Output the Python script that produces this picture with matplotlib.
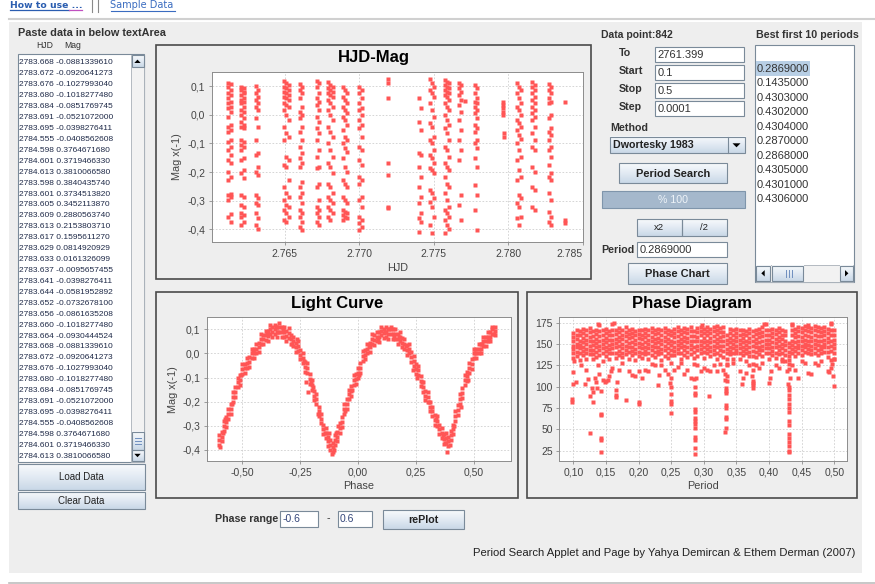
import numpy as np
import matplotlib
matplotlib.use('Agg')
import matplotlib.pyplot as plt
from matplotlib.patches import Rectangle, Polygon
from matplotlib.colors import LinearSegmentedColormap
from matplotlib.ticker import FixedLocator, FuncFormatter

plt.rcParams['font.family'] = ['Liberation Sans', 'DejaVu Sans']

# ----------------------------------------------------------------- data
TEXTAREA_ROWS = [
    '2783.668 -0.0881339610', '2783.672 -0.0920641273', '2783.676 -0.1027993040',
    '2783.680 -0.1018277480', '2783.684 -0.0851769745', '2783.691 -0.0521072000',
    '2783.695 -0.0398276411', '2784.555 -0.0408562608', '2784.598 0.3764671680',
    '2784.601 0.3719466330', '2784.613 0.3810066580', '2783.598 0.3840435740',
    '2783.601 0.3734513820', '2783.605 0.3452113870', '2783.609 0.2880563740',
    '2783.613 0.2153803710', '2783.617 0.1595611270', '2783.629 0.0814920929',
    '2783.633 0.0161326099', '2783.637 -0.0095657455', '2783.641 -0.0398276411',
    '2783.644 -0.0581952892', '2783.652 -0.0732678100', '2783.656 -0.0861635208',
    '2783.660 -0.1018277480', '2783.664 -0.0930444524', '2783.668 -0.0881339610',
    '2783.672 -0.0920641273', '2783.676 -0.1027993040', '2783.680 -0.1018277480',
    '2783.684 -0.0851769745', '2783.691 -0.0521072000', '2783.695 -0.0398276411',
    '2784.555 -0.0408562608', '2784.598 0.3764671680', '2784.601 0.3719466330',
    '2784.613 0.3810066580']

BEST_PERIODS = ['0.2869000', '0.1435000', '0.4303000', '0.4302000', '0.4304000',
                '0.2870000', '0.2868000', '0.4305000', '0.4301000', '0.4306000']

FIELD_LABELS = ['To', 'Start', 'Stop', 'Step']
FIELD_VALUES = ['2761.399', '0.1', '0.5', '0.0001']

# HJD-Mag: observation columns (HJD) and the magnitudes observed in each
HJD_COLS = [2761.18, 2761.40, 2762.10, 2762.30, 2763.05, 2763.20, 2764.97, 2765.12,
            2765.27, 2766.00, 2766.16, 2767.17, 2767.31, 2767.93, 2768.07, 2768.21,
            2768.90, 2769.03, 2769.16, 2770.00, 2770.16, 2771.95, 2774.02, 2774.12,
            2774.78, 2774.91, 2775.04, 2775.74, 2775.87, 2776.00, 2776.68, 2776.84,
            2777.08, 2777.74, 2777.90, 2779.64, 2779.72, 2780.60, 2780.74, 2780.88,
            2781.60, 2781.78, 2782.74, 2782.88, 2783.78]
MAG_COLS = [
    [0.110, 0.098, 0.074, 0.057, 0.040, 0.022, -0.007, -0.042, -0.059, -0.095, -0.123, -0.158, -0.199, -0.228, -0.281, -0.298, -0.356],
    [0.107, 0.086, 0.069, 0.045, 0.028, 0.010, -0.036, -0.053, -0.088, -0.112, -0.140, -0.170, -0.216, -0.275, -0.287, -0.345, -0.373],
    [0.098, 0.086, 0.069, 0.051, 0.040, 0.016, -0.001, -0.024, -0.042, -0.088, -0.106, -0.123, -0.158, -0.205, -0.280, -0.315, -0.344, -0.356, -0.385],
    [0.092, 0.080, 0.074, 0.057, 0.045, 0.028, 0.010, -0.013, -0.036, -0.048, -0.095, -0.112, -0.152, -0.193, -0.222, -0.286, -0.321, -0.350, -0.373],
    [0.100, 0.074, 0.051, 0.028, -0.013, -0.088, -0.141, -0.199, -0.280, -0.309, -0.344, -0.385],
    [0.086, 0.063, 0.040, 0.016, -0.042, -0.135, -0.181, -0.210, -0.292, -0.315, -0.362, -0.397],
    [0.119, 0.098, 0.080, 0.063, 0.040, 0.016, -0.042, -0.088, -0.176, -0.251, -0.298, -0.333, -0.367],
    [0.112, 0.092, 0.074, 0.057, 0.034, -0.001, -0.065, -0.147, -0.181, -0.274, -0.315, -0.344, -0.373],
    [0.103, 0.086, 0.069, 0.051, 0.028, -0.019, -0.077, -0.158, -0.228, -0.286, -0.321, -0.356],
    [0.107, 0.086, 0.057, 0.010, -0.013, -0.059, -0.112, -0.152, -0.181, -0.251, -0.286, -0.333, -0.356, -0.391],
    [0.098, 0.074, 0.028, -0.001, -0.042, -0.088, -0.135, -0.170, -0.234, -0.274, -0.309, -0.344, -0.373, -0.402],
    [0.119, 0.098, 0.057, 0.034, -0.007, -0.048, -0.088, -0.147, -0.187, -0.251, -0.321, -0.344, -0.373],
    [0.109, 0.074, 0.045, 0.016, -0.024, -0.065, -0.123, -0.181, -0.240, -0.298, -0.333, -0.356, -0.385],
    [0.115, 0.092, 0.074, 0.051, 0.016, -0.042, -0.100, -0.170, -0.240, -0.286, -0.321, -0.356],
    [0.103, 0.086, 0.069, 0.040, -0.001, -0.059, -0.123, -0.181, -0.251, -0.298, -0.333, -0.367],
    [0.098, 0.080, 0.063, 0.028, -0.019, -0.077, -0.147, -0.205, -0.274, -0.309, -0.344],
    [0.098, 0.063, 0.028, -0.007, -0.053, -0.100, -0.152, -0.228, -0.286, -0.333, -0.350, -0.367],
    [0.086, 0.051, 0.016, -0.019, -0.077, -0.117, -0.181, -0.240, -0.298, -0.338, -0.356],
    [0.074, 0.040, 0.005, -0.036, -0.088, -0.129, -0.199, -0.251, -0.309, -0.344, -0.362],
    [0.098, 0.074, 0.040, 0.016, -0.019, -0.048, -0.112, -0.158, -0.216, -0.240, -0.298, -0.356, -0.379, -0.402],
    [0.086, 0.057, 0.022, -0.001, -0.036, -0.077, -0.123, -0.176, -0.228, -0.286, -0.321, -0.367, -0.391],
    [0.123, 0.112, 0.057, -0.170, -0.210, -0.321, -0.327],
    [0.060, -0.024, -0.135, -0.181, -0.251, -0.309, -0.362, -0.408],
    [0.022, -0.053, -0.141, -0.216, -0.286, -0.344, -0.373],
    [0.124, 0.086, 0.040, -0.030, -0.088, -0.141, -0.187, -0.263, -0.303, -0.385],
    [0.109, 0.074, 0.016, -0.042, -0.100, -0.152, -0.193, -0.274, -0.321, -0.412],
    [0.098, 0.063, -0.007, -0.077, -0.123, -0.170, -0.205, -0.292, -0.356],
    [0.121, 0.103, 0.086, 0.069, 0.040, -0.001, -0.048, -0.112, -0.170, -0.216, -0.274, -0.333, -0.367, -0.412],
    [0.115, 0.098, 0.080, 0.063, 0.028, -0.019, -0.065, -0.123, -0.181, -0.240, -0.298, -0.344, -0.385],
    [0.109, 0.092, 0.074, 0.051, 0.016, -0.036, -0.088, -0.147, -0.193, -0.251, -0.321, -0.356, -0.397],
    [0.112, 0.092, 0.069, 0.034, -0.019, -0.088, -0.158, -0.315],
    [0.103, 0.080, 0.051, 0.010, -0.053, -0.123, -0.280, -0.367],
    [0.049],
    [0.103, 0.074, 0.045, 0.028, 0.005, -0.036, -0.059, -0.100, -0.152, -0.245, -0.333],
    [0.092, 0.057, 0.040, 0.016, -0.013, -0.048, -0.088, -0.117, -0.181, -0.280, -0.402],
    [0.045, 0.034, 0.022, 0.010, -0.001],
    [-0.065, -0.077],
    [0.109, 0.074, 0.028, -0.019, -0.053, -0.100, -0.158, -0.228, -0.309, -0.362],
    [0.098, 0.057, 0.016, -0.030, -0.071, -0.123, -0.193, -0.280, -0.321, -0.385],
    [0.086, 0.040, -0.001, -0.042, -0.083, -0.147, -0.216, -0.292, -0.356],
    [0.115, 0.098, 0.074, 0.051, 0.028, 0.005, -0.019, -0.065, -0.112, -0.181, -0.251, -0.321],
    [0.103, 0.086, 0.063, 0.040, 0.016, -0.007, -0.042, -0.088, -0.123, -0.199, -0.263, -0.333],
    [0.107, 0.086, 0.057, 0.040, -0.013, -0.059, -0.088, -0.123, -0.176, -0.216, -0.274, -0.338, -0.373],
    [0.098, 0.074, 0.045, -0.001, -0.048, -0.071, -0.112, -0.147, -0.205, -0.228, -0.298, -0.356, -0.385],
    [0.045, -0.367, -0.377],
]

# Light curve: phase and three magnitude readings per phase bin
LC_PHASE = [-0.60, -0.59, -0.58, -0.57, -0.56, -0.55, -0.54, -0.53, -0.52, -0.51,
            -0.50, -0.49, -0.48, -0.47, -0.46, -0.45, -0.44, -0.43, -0.42, -0.41,
            -0.40, -0.39, -0.38, -0.37, -0.36, -0.35, -0.34, -0.33, -0.32, -0.31,
            -0.30, -0.29, -0.28, -0.27, -0.26, -0.25, -0.24, -0.23, -0.22, -0.21,
            -0.20, -0.19, -0.18, -0.17, -0.16, -0.15, -0.14, -0.13, -0.12, -0.11,
            -0.10, -0.09, -0.08, -0.07, -0.06, -0.05, -0.04, -0.03, -0.02, -0.01,
            0.00, 0.01, 0.02, 0.03, 0.04, 0.05, 0.06, 0.07, 0.08, 0.09,
            0.10, 0.11, 0.12, 0.13, 0.14, 0.15, 0.16, 0.17, 0.18, 0.19,
            0.20, 0.21, 0.22, 0.23, 0.24, 0.25, 0.26, 0.27, 0.28, 0.29,
            0.30, 0.31, 0.32, 0.33, 0.34, 0.35, 0.36, 0.37, 0.38, 0.39,
            0.40, 0.41, 0.42, 0.43, 0.44, 0.45, 0.46, 0.47, 0.48, 0.49,
            0.50, 0.51, 0.52, 0.53, 0.54, 0.55, 0.56, 0.57, 0.58, 0.59]
LC_MAG_HI = [-0.34, -0.325, -0.28, -0.265, -0.23, -0.21, -0.16, -0.14, -0.10, -0.09,
             -0.045, -0.042, -0.02, -0.015, 0.02, 0.02, 0.04, 0.045, 0.08, 0.078,
             0.095, 0.093, 0.12, 0.11, 0.12, 0.11, 0.125, 0.11, 0.11, 0.093,
             0.105, 0.078, 0.07, 0.045, 0.05, 0.015, 0.00, -0.035, -0.04, -0.085,
             -0.11, -0.155, -0.17, -0.22, -0.25, -0.295, -0.31, -0.345, -0.36, -0.37,
             -0.34, -0.325, -0.29, -0.265, -0.21, -0.19, -0.15, -0.135, -0.09, -0.085,
             -0.06, -0.04, 0.01, 0.015, 0.04, 0.045, 0.08, 0.075, 0.09, 0.088,
             0.11, 0.103, 0.11, 0.10, 0.11, 0.10, 0.10, 0.08, 0.09, 0.065,
             0.06, 0.035, 0.04, 0.005, -0.01, -0.045, -0.05, -0.095, -0.12, -0.155,
             -0.16, -0.20, -0.22, -0.255, -0.26, -0.295, -0.31, -0.335, -0.33, -0.345,
             -0.32, -0.295, -0.24, -0.215, -0.17, -0.145, -0.09, -0.075, -0.04, -0.025,
             0.02, 0.02, 0.04, 0.04, 0.07, 0.07, 0.09, 0.09, 0.11, 0.11]
LC_MAG_MID = [-0.36, -0.345, -0.30, -0.285, -0.25, -0.23, -0.18, -0.16, -0.12, -0.11,
              -0.065, -0.062, -0.04, -0.035, 0.00, 0.00, 0.02, 0.025, 0.06, 0.058,
              0.075, 0.073, 0.10, 0.09, 0.10, 0.09, 0.11, 0.09, 0.09, 0.073,
              0.085, 0.058, 0.05, 0.025, 0.03, -0.005, -0.02, -0.055, -0.06, -0.105,
              -0.13, -0.175, -0.19, -0.24, -0.27, -0.315, -0.33, -0.365, -0.38, -0.39,
              -0.36, -0.345, -0.31, -0.285, -0.23, -0.21, -0.17, -0.155, -0.11, -0.105,
              -0.08, -0.06, -0.01, -0.005, 0.02, 0.025, 0.06, 0.055, 0.07, 0.068,
              0.095, 0.083, 0.09, 0.08, 0.10, 0.08, 0.08, 0.06, 0.07, 0.045,
              0.04, 0.015, 0.02, -0.015, -0.03, -0.065, -0.07, -0.115, -0.14, -0.175,
              -0.18, -0.22, -0.24, -0.275, -0.28, -0.315, -0.33, -0.355, -0.35, -0.365,
              -0.34, -0.315, -0.26, -0.235, -0.19, -0.165, -0.11, -0.095, -0.06, -0.045,
              0.00, 0.00, 0.02, 0.02, 0.05, 0.05, 0.07, 0.07, 0.10, 0.095]
LC_MAG_LO = [-0.38, -0.365, -0.32, -0.305, -0.27, -0.25, -0.20, -0.18, -0.14, -0.13,
             -0.085, -0.082, -0.06, -0.055, -0.02, -0.02, 0.00, 0.005, 0.04, 0.038,
             0.055, 0.053, 0.08, 0.07, 0.08, 0.07, 0.09, 0.07, 0.07, 0.053,
             0.065, 0.038, 0.03, 0.005, 0.01, -0.025, -0.04, -0.075, -0.08, -0.125,
             -0.15, -0.195, -0.21, -0.26, -0.29, -0.335, -0.35, -0.385, -0.40, -0.41,
             -0.38, -0.365, -0.33, -0.305, -0.25, -0.23, -0.19, -0.175, -0.13, -0.125,
             -0.10, -0.08, -0.03, -0.025, 0.00, 0.005, 0.04, 0.035, 0.05, 0.048,
             0.075, 0.063, 0.07, 0.06, 0.08, 0.06, 0.06, 0.04, 0.05, 0.025,
             0.02, -0.005, 0.00, -0.035, -0.05, -0.085, -0.09, -0.135, -0.16, -0.195,
             -0.20, -0.24, -0.26, -0.295, -0.30, -0.335, -0.35, -0.375, -0.37, -0.385,
             -0.36, -0.335, -0.28, -0.255, -0.21, -0.185, -0.13, -0.115, -0.08, -0.065,
             -0.02, -0.02, 0.00, 0.00, 0.03, 0.03, 0.05, 0.05, 0.08, 0.075]
LC_EXTRA_PHASE = [-0.595, -0.585, -0.575, -0.545, -0.505, -0.455, -0.395, -0.355, -0.345, -0.325,
                  -0.285, -0.265, -0.235, -0.225, -0.215, -0.205, -0.195, -0.175, -0.145, -0.125,
                  -0.115, -0.105, -0.095, -0.085, -0.055, -0.025, 0.005, 0.045, 0.085, 0.115,
                  0.135, 0.155, 0.175, 0.205, 0.235, 0.255, 0.275, 0.305, 0.335, 0.365,
                  0.375, 0.385, 0.395, 0.415, 0.445, 0.475, 0.505, 0.535, 0.565, 0.585]
LC_EXTRA_MAG = [-0.39, -0.33, -0.27, -0.21, -0.09, 0.01, 0.08, 0.11, 0.09, 0.10,
                0.04, 0.06, -0.03, -0.12, -0.16, -0.12, -0.14, -0.25, -0.33, -0.33,
                -0.415, -0.40, -0.33, -0.30, -0.24, -0.15, -0.09, 0.03, 0.06, 0.09,
                0.10, 0.07, 0.07, 0.03, -0.07, -0.10, -0.12, -0.20, -0.27, -0.34,
                -0.37, -0.41, -0.38, -0.30, -0.22, -0.11, 0.00, 0.04, 0.06, 0.08]

# Phase diagram: trial period columns with theta values of the dense band
PD_BAND_PERIOD = [0.100, 0.105, 0.110, 0.115, 0.120, 0.125, 0.130, 0.135, 0.140, 0.145,
                  0.150, 0.155, 0.160, 0.165, 0.170, 0.175, 0.180, 0.185, 0.190, 0.195,
                  0.200, 0.205, 0.210, 0.215, 0.220, 0.225, 0.230, 0.235, 0.240, 0.245,
                  0.250, 0.255, 0.260, 0.265, 0.270, 0.275, 0.280, 0.285, 0.290, 0.295,
                  0.300, 0.305, 0.310, 0.315, 0.320, 0.325, 0.330, 0.335, 0.340, 0.345,
                  0.350, 0.355, 0.360, 0.365, 0.370, 0.375, 0.380, 0.385, 0.390, 0.395,
                  0.400, 0.405, 0.410, 0.415, 0.420, 0.425, 0.430, 0.435, 0.440, 0.445,
                  0.450, 0.455, 0.460, 0.465, 0.470, 0.475, 0.480, 0.485, 0.490, 0.495, 0.500]
PD_BAND_THETA = [
    [163, 158, 153, 148, 144, 139, 134], [167, 161, 156, 150, 146, 141, 136],
    [165, 160, 154, 149, 145, 140, 131], [168, 163, 157, 152, 147, 142, 137],
    [166, 161, 155, 150, 144, 139, 133], [169, 164, 158, 153, 148, 143, 138],
    [165, 159, 154, 149, 143, 138, 132], [167, 162, 156, 151, 146, 141, 135],
    [172, 165, 159, 154, 148, 143, 137], [166, 160, 155, 150, 145, 139, 130],
    [168, 163, 157, 152, 147, 142, 136], [165, 160, 155, 149, 144, 139, 133],
    [174, 167, 161, 155, 150, 145, 139], [167, 162, 156, 151, 146, 140, 134],
    [169, 164, 158, 153, 148, 142, 137], [166, 161, 156, 150, 145, 140, 135],
    [170, 164, 159, 153, 148, 143, 138], [167, 162, 157, 151, 146, 141, 133],
    [168, 163, 158, 152, 147, 142, 137], [165, 160, 155, 150, 144, 139, 131],
    [167, 162, 157, 151, 146, 141, 136], [166, 161, 156, 150, 145, 139, 134],
    [168, 163, 158, 152, 147, 142, 138], [166, 161, 155, 150, 145, 140, 132],
    [169, 164, 158, 153, 148, 143, 137], [167, 162, 156, 151, 146, 141, 135],
    [168, 163, 157, 152, 147, 142, 138], [166, 160, 155, 150, 144, 139, 131],
    [169, 164, 158, 153, 148, 143, 136], [167, 162, 156, 151, 145, 140, 134],
    [165, 160, 154, 149, 143, 137, 128], [168, 163, 158, 152, 147, 142, 137],
    [170, 165, 159, 154, 149, 144, 139], [167, 162, 156, 151, 146, 140, 133],
    [169, 164, 158, 153, 148, 143, 137], [168, 163, 157, 152, 146, 141, 135],
    [170, 165, 159, 154, 149, 144, 138], [165, 159, 153, 147, 141, 134, 126],
    [169, 164, 158, 153, 148, 143, 136], [170, 165, 160, 154, 149, 144, 140],
    [168, 163, 157, 152, 146, 141, 134], [170, 165, 160, 154, 149, 144, 139],
    [168, 163, 157, 152, 147, 142, 136], [170, 165, 159, 154, 148, 143, 138],
    [167, 162, 156, 151, 146, 140, 133], [169, 164, 158, 153, 148, 143, 137],
    [170, 164, 159, 153, 148, 142, 135], [161, 155, 150, 144, 139, 133, 127],
    [168, 163, 157, 152, 147, 142, 138], [166, 161, 155, 150, 145, 139, 133],
    [168, 163, 158, 153, 148, 143, 139], [166, 161, 155, 150, 145, 140, 132],
    [167, 162, 157, 152, 147, 142, 137], [165, 160, 154, 149, 144, 139, 130],
    [168, 163, 157, 152, 147, 141, 136], [165, 159, 153, 148, 142, 136, 127],
    [167, 162, 156, 151, 146, 141, 135], [168, 163, 158, 152, 147, 143, 138],
    [170, 164, 159, 154, 148, 143, 136], [173, 166, 160, 155, 150, 145, 139],
    [166, 161, 155, 150, 145, 139, 132], [168, 163, 158, 152, 147, 142, 137],
    [167, 162, 156, 151, 146, 140, 134], [169, 164, 158, 153, 148, 143, 138],
    [166, 161, 156, 150, 145, 139, 133], [165, 160, 154, 149, 143, 137, 130],
    [151, 146, 141, 136, 131, 126, 121], [172, 166, 160, 154, 149, 144, 139],
    [168, 163, 158, 152, 147, 142, 136], [170, 165, 159, 154, 149, 145, 140],
    [169, 164, 158, 153, 148, 143, 137], [171, 166, 160, 155, 150, 146, 141],
    [170, 165, 159, 154, 149, 144, 139], [169, 164, 158, 153, 148, 143, 138],
    [171, 166, 160, 155, 150, 145, 140], [170, 165, 159, 154, 149, 143, 137],
    [169, 164, 159, 153, 148, 144, 139], [170, 165, 160, 155, 150, 146, 141],
    [168, 163, 157, 152, 147, 141, 135], [174, 167, 160, 154, 148, 142, 131],
    [166, 161, 155, 150, 145, 140, 133]]
# Phase diagram: isolated (period, theta) points outside the band
PD_SCATTER = [
    (0.098, 85), (0.098, 82), (0.100, 103), (0.100, 117), (0.101, 130), (0.104, 106),
    (0.112, 125), (0.118, 103), (0.120, 120), (0.123, 109), (0.125, 89), (0.125, 46),
    (0.128, 98), (0.130, 94), (0.130, 82), (0.133, 110), (0.135, 105), (0.137, 98),
    (0.138, 125), (0.140, 115), (0.1425, 68), (0.1425, 67), (0.143, 40), (0.143, 38),
    (0.143, 23), (0.142, 95), (0.145, 108), (0.148, 105), (0.150, 107), (0.153, 108),
    (0.155, 112), (0.157, 118), (0.160, 122), (0.165, 96), (0.165, 90), (0.166, 88),
    (0.167, 105), (0.170, 120), (0.175, 128), (0.180, 84), (0.185, 118), (0.190, 114),
    (0.195, 113), (0.200, 82), (0.200, 80), (0.200, 118), (0.205, 110), (0.210, 120),
    (0.215, 118), (0.220, 127), (0.225, 125), (0.230, 102), (0.232, 114), (0.235, 125),
    (0.240, 120), (0.245, 115), (0.248, 104), (0.249, 100), (0.249, 92), (0.249, 83),
    (0.249, 80), (0.249, 69), (0.250, 110), (0.255, 120), (0.260, 123), (0.265, 128),
    (0.270, 115), (0.275, 120), (0.280, 110), (0.2855, 109), (0.286, 100), (0.286, 93),
    (0.286, 90), (0.286, 74), (0.286, 70), (0.286, 63), (0.286, 60), (0.286, 56),
    (0.286, 51), (0.286, 41), (0.286, 38), (0.286, 28), (0.286, 21), (0.288, 110),
    (0.290, 125), (0.295, 118), (0.300, 122), (0.305, 120), (0.308, 89), (0.310, 118),
    (0.315, 125), (0.320, 118), (0.325, 127), (0.330, 120), (0.333, 115), (0.333, 108),
    (0.334, 98), (0.334, 95), (0.334, 93), (0.334, 79), (0.334, 75), (0.334, 65),
    (0.334, 62), (0.334, 51), (0.333, 47), (0.335, 112), (0.335, 107), (0.335, 125),
    (0.345, 128), (0.355, 118), (0.358, 103), (0.360, 110), (0.365, 116), (0.370, 125),
    (0.374, 113), (0.375, 107), (0.375, 104), (0.375, 102), (0.375, 98), (0.376, 120),
    (0.380, 125), (0.385, 122), (0.390, 128), (0.400, 104), (0.401, 110), (0.403, 118),
    (0.410, 125), (0.415, 122), (0.420, 130), (0.428, 118), (0.429, 103), (0.430, 100),
    (0.430, 96), (0.430, 90), (0.430, 85), (0.430, 80), (0.430, 75), (0.430, 70),
    (0.430, 60), (0.430, 55), (0.430, 45), (0.430, 40), (0.430, 35), (0.430, 30),
    (0.430, 25), (0.430, 23), (0.432, 110), (0.435, 125), (0.440, 120), (0.445, 110),
    (0.450, 130), (0.455, 128), (0.460, 116), (0.465, 115), (0.470, 128), (0.475, 125),
    (0.480, 130), (0.490, 118), (0.492, 117), (0.495, 122), (0.496, 126), (0.498, 113),
    (0.500, 101), (0.499, 132), (0.138, 173), (0.163, 175), (0.393, 174), (0.435, 173),
    (0.495, 175), (0.297, 172), (0.320, 171), (0.460, 172)]

HJD_TICKS = [2765, 2770, 2775, 2780, 2785]
MAG_TICKS = [-0.4, -0.3, -0.2, -0.1, 0.0, 0.1]
PHASE_TICKS = [-0.5, -0.25, 0.0, 0.25, 0.5]
PERIOD_TICKS = [0.10, 0.15, 0.20, 0.25, 0.30, 0.35, 0.40, 0.45, 0.50]
THETA_TICKS = [25, 50, 75, 100, 125, 150, 175]

# ----------------------------------------------------------------- canvas
W, H = 875, 584
fig = plt.figure(figsize=(W / 100, H / 100), dpi=100)
fig.patch.set_facecolor('white')
ui = fig.add_axes([0, 0, 1, 1])
ui.axis('off')

RED = '#ff5555'
BORDER = '#7a8a99'
BTN_CMAP = LinearSegmentedColormap.from_list('btn', ['#f8fafc', '#e2eaf3', '#c9d8e7'])
GRAD = np.linspace(0, 1, 64).reshape(-1, 1)


def rect(x0, y0, x1, y1, fc='none', ec='none', lw=0.8, z=1):
    ui.add_patch(Rectangle((x0, y0), x1 - x0, y1 - y0, facecolor=fc,
                           edgecolor=ec, linewidth=lw, zorder=z))


def txt(x, y, s, size=7.7, bold=False, color='#333333', ha='left', va='center',
        family=None, z=6):
    kw = {'family': family} if family else {}
    ui.text(x, y, s, fontsize=size, fontweight='bold' if bold else 'normal',
            color=color, ha=ha, va=va, zorder=z, **kw)


def gradbox(x0, y0, x1, y1, z=2):
    ui.imshow(GRAD, cmap=BTN_CMAP, extent=(x0, x1, y1, y0), aspect='auto',
              interpolation='bilinear', zorder=z)
    rect(x0, y0, x1, y1, ec=BORDER, lw=0.8, z=z + 0.5)


def button(x0, y0, x1, y1, label, size=7.7, bold=True):
    gradbox(x0, y0, x1, y1)
    txt((x0 + x1) / 2, (y0 + y1) / 2 + 0.5, label, size=size, bold=bold,
        ha='center', color='#222222')


def field(x0, y0, x1, y1, s, size=8, color='#333333'):
    rect(x0, y0, x1, y1, fc='white', ec=BORDER, lw=0.8, z=2)
    txt(x0 + 2.5, (y0 + y1) / 2 + 0.5, s, size=size, color=color)


def tri(cx, cy, d, hw=3.5, h=3.5, color='black', z=4):
    if d == 'up':
        pts = [(cx - hw, cy + h / 2), (cx + hw, cy + h / 2), (cx, cy - h / 2)]
    elif d == 'down':
        pts = [(cx - hw, cy - h / 2), (cx + hw, cy - h / 2), (cx, cy + h / 2)]
    elif d == 'left':
        pts = [(cx + h / 2, cy - hw), (cx + h / 2, cy + hw), (cx - h / 2, cy)]
    else:
        pts = [(cx - h / 2, cy - hw), (cx - h / 2, cy + hw), (cx + h / 2, cy)]
    ui.add_patch(Polygon(pts, closed=True, facecolor=color, edgecolor='none', zorder=z))


def px_axes(x0, y0, x1, y1):
    return fig.add_axes([x0 / W, 1 - y1 / H, (x1 - x0) / W, (y1 - y0) / H])


def comma(fmt):
    return lambda v, p: (fmt % (0.0 if abs(v) < 1e-9 else v)).replace('.', ',')


def style_axes(ax, xlim, ylim, xticks, yticks, xfmt, yfmt):
    ax.set_facecolor('white')
    ax.set_xlim(*xlim)
    ax.set_ylim(*ylim)
    ax.xaxis.set_major_locator(FixedLocator(xticks))
    ax.yaxis.set_major_locator(FixedLocator(yticks))
    ax.xaxis.set_major_formatter(FuncFormatter(xfmt))
    ax.yaxis.set_major_formatter(FuncFormatter(yfmt))
    for s in ax.spines.values():
        s.set_color('#8c8c8c')
        s.set_linewidth(0.7)
    ax.grid(True, color='#cfcfcf', linestyle=(0, (2, 2)), linewidth=0.6)
    ax.set_axisbelow(True)
    ax.tick_params(direction='out', length=2.2, width=0.6, color='#8c8c8c',
                   labelsize=7.5, labelcolor='#444444', pad=2.5)


def axis_labels(ax, xlabel, xpos, ylabel=None, ypos=None):
    ax.set_xlabel(xlabel, fontsize=7.8, color='#444444')
    ax.xaxis.set_label_coords(*xpos)
    ax.xaxis.label.set_va('center')
    if ylabel:
        ax.set_ylabel(ylabel, fontsize=7.8, color='#444444')
        ax.yaxis.set_label_coords(*ypos)
        ax.yaxis.label.set_va('center')


# ----------------------------------------------------------------- page header
txt(10, 5.3, 'How to use ...', size=6.7, bold=True, color='#2a5db0', family='DejaVu Sans')
ui.plot([10, 69], [10, 10], color='#2a5db0', lw=0.9, zorder=3)
ui.plot([69, 82], [10, 10], color='#c050c0', lw=0.9, zorder=3)
ui.plot([92, 92], [0, 11.5], color='#8a8a8a', lw=0.8, zorder=3)
ui.plot([97.5, 97.5], [0, 11.5], color='#8a8a8a', lw=0.8, zorder=3)
txt(110.5, 5.3, 'Sample Data', size=7, color='#3a6cc0', family='DejaVu Sans')
ui.plot([110.5, 175], [10.7, 10.7], color='#3a6cc0', lw=0.8, zorder=3)
ui.plot([9, 875], [18.5, 18.5], color='#d0d0d0', lw=1.5, zorder=3)

# applet panel
rect(9, 22, 862, 573, fc='#eeeeee', z=0.5)
ui.plot([9, 875], [582.5, 582.5], color='#bdbdbd', lw=1.2, zorder=3)

# ----------------------------------------------------------------- left column
txt(18, 33.3, 'Paste data in below textArea', size=7.8, bold=True)
txt(36.5, 45, 'HJD', size=6.2)
txt(64, 45, 'Mag', size=6.2)
rect(18, 54, 144, 462, fc='white', ec=BORDER, lw=0.8, z=1)
for i, row in enumerate(TEXTAREA_ROWS):
    txt(19, 63 + i * 10.92, row, size=6, color='#1f2a48')
rect(131, 54.5, 144, 461.5, fc='#f2f2f2', ec='#a8b0b8', lw=0.6, z=1.5)
gradbox(131.5, 55, 143.5, 67)
tri(137.5, 61.3, 'up', hw=3.2, h=3.4)
gradbox(131.5, 431.7, 143.5, 450)
for gy in (437.5, 440.5, 443.5):
    ui.plot([134.5, 140.5], [gy, gy], color='#6f8fbf', lw=0.7, zorder=4)
gradbox(131.5, 450, 143.5, 461)
tri(137.5, 455.5, 'down', hw=3.2, h=3.4)
button(18, 464, 145, 490, 'Load Data', size=7, bold=False)
button(18, 491.7, 145, 509, 'Clear Data', size=7, bold=False)

# ----------------------------------------------------------------- right controls
txt(601, 35, 'Data point:842', size=7.5, bold=True)
txt(755.5, 35, 'Best first 10 periods', size=7.7, bold=True)
for i, (lab, val) in enumerate(zip(FIELD_LABELS, FIELD_VALUES)):
    y0 = 46.7 + i * 18.1
    txt(619, y0 + 6.2, lab, size=7.7, bold=True)
    field(655, y0, 744.3, y0 + 15, val, size=8)
txt(610, 127.7, 'Method', size=7.7, bold=True)
gradbox(610, 136.7, 745.3, 153.3)
ui.plot([727.7, 727.7], [136.7, 153.3], color=BORDER, lw=0.8, zorder=3)
txt(613, 145.3, 'Dwortesky 1983', size=7.7, bold=True, color='#222222')
tri(736.5, 145.3, 'down', hw=4, h=4)
button(619.3, 163.3, 726.7, 183.3, 'Period Search', size=7.9)
rect(601.7, 191, 745.3, 207.7, fc='#a5b8cc', ec='#7f95ab', lw=0.8, z=2)
txt(673.5, 199.6, '% 100', size=7.7, color='#eef3f8', ha='center')
button(636.7, 219, 681.7, 235.7, 'x2', size=6.8, bold=False)
button(681.7, 219, 726.7, 235.7, '/2', size=6.8, bold=False)
txt(601, 250, 'Period', size=7.7, bold=True)
field(636.7, 242.3, 726.7, 257.3, '0.2869000', size=8)
button(628.3, 263.3, 726.7, 284, 'Phase Chart', size=7.9)

# best periods list
rect(755, 45, 853.5, 282, fc='white', ec=BORDER, lw=0.8, z=1)
rect(755.7, 61, 810, 75.5, fc='#b8cfe5', z=1.5)
for i, p in enumerate(BEST_PERIODS):
    txt(757, 68.5 + i * 14.55, p, size=8, color='#333333')
rect(755.5, 265, 853, 281.5, fc='#f2f2f2', ec='#a8b0b8', lw=0.6, z=1.5)
gradbox(755.5, 265.5, 770, 281)
tri(763, 273.3, 'left', hw=3.2, h=3.4)
gradbox(771.7, 265.5, 803.3, 281)
for gx in (786, 789, 792):
    ui.plot([gx, gx], [270, 277], color='#6f8fbf', lw=0.7, zorder=4)
gradbox(840, 265.5, 853, 281)
tri(846.7, 273.3, 'right', hw=3.2, h=3.4)

# ----------------------------------------------------------------- chart frames
rect(156, 45, 591, 279, fc='#eeeeee', ec='#4a4a4a', lw=1.2, z=1)
rect(155.7, 291.7, 517.7, 498, fc='#eeeeee', ec='#4a4a4a', lw=1.2, z=1)
rect(526.7, 291.7, 857, 498, fc='#eeeeee', ec='#4a4a4a', lw=1.2, z=1)
txt(373.5, 57.3, 'HJD-Mag', size=12, bold=True, color='black', ha='center')
txt(336.7, 303.3, 'Light Curve', size=12, bold=True, color='black', ha='center')
txt(691.8, 303.3, 'Phase Diagram', size=12, bold=True, color='black', ha='center')

# bottom row
txt(215, 519, 'Phase range', size=7.7, bold=True)
field(280, 511, 317.5, 527, '-0.6', size=7.5, color='#34467a')
txt(328, 518.5, '-', size=7.7, ha='center')
field(337.6, 511, 371.8, 527, '0.6', size=7.5, color='#34467a')
button(383, 510, 463.7, 529, 'rePlot', size=7.7)
txt(855, 553, 'Period Search Applet and Page by Yahya Demircan & Ethem Derman (2007)',
    size=8.1, color='#222222', ha='right')

ui.set_xlim(0, W)
ui.set_ylim(H, 0)

# ----------------------------------------------------------------- HJD-Mag chart
ax1 = px_axes(211.7, 71.7, 582.7, 242)
hjd = np.concatenate([[t] * len(m) for t, m in zip(HJD_COLS, MAG_COLS)])
mag = np.concatenate([np.asarray(m) for m in MAG_COLS])
ax1.plot(hjd, mag, 's', ms=2.3, mfc=RED, mec='none', zorder=3)
style_axes(ax1, (2760.1, 2785.0), (-0.444, 0.15), HJD_TICKS, MAG_TICKS,
           lambda v, p: '%.3f' % (v / 1000.0), comma('%.1f'))
ax1.xaxis.get_major_ticks()[-1].label1.set_horizontalalignment('right')
axis_labels(ax1, 'HJD', (0.5, -0.153), 'Mag x(-1)', (-0.094, 0.5))

# ----------------------------------------------------------------- Light Curve chart
ax2 = px_axes(206.7, 317.3, 511, 461)
for col in (LC_MAG_HI, LC_MAG_MID, LC_MAG_LO):
    ax2.plot(LC_PHASE, col, 's', ms=2.3, mfc=RED, mec='none', zorder=3)
ax2.plot(LC_EXTRA_PHASE, LC_EXTRA_MAG, 's', ms=2.3, mfc=RED, mec='none', zorder=3)
style_axes(ax2, (-0.654, 0.66), (-0.446, 0.15), PHASE_TICKS, MAG_TICKS,
           comma('%.2f'), comma('%.1f'))
axis_labels(ax2, 'Phase', (0.498, -0.174), 'Mag x(-1)', (-0.11, 0.5))

# ----------------------------------------------------------------- Phase Diagram chart
ax3 = px_axes(559.3, 317.3, 847.3, 461)
band_p = np.concatenate([[p] * len(t) for p, t in zip(PD_BAND_PERIOD, PD_BAND_THETA)])
band_t = np.concatenate([np.asarray(t) for t in PD_BAND_THETA])
ax3.plot(band_p, band_t, 's', ms=2.3, mfc=RED, mec='none', zorder=3)
sc_p, sc_t = zip(*PD_SCATTER)
ax3.plot(sc_p, sc_t, 's', ms=2.3, mfc=RED, mec='none', zorder=3)
style_axes(ax3, (0.0785, 0.52), (12.9, 181.3), PERIOD_TICKS, THETA_TICKS,
           comma('%.2f'), lambda v, p: '%d' % v)
axis_labels(ax3, 'Period', (0.499, -0.174))

fig.savefig('out.png', dpi=100)
